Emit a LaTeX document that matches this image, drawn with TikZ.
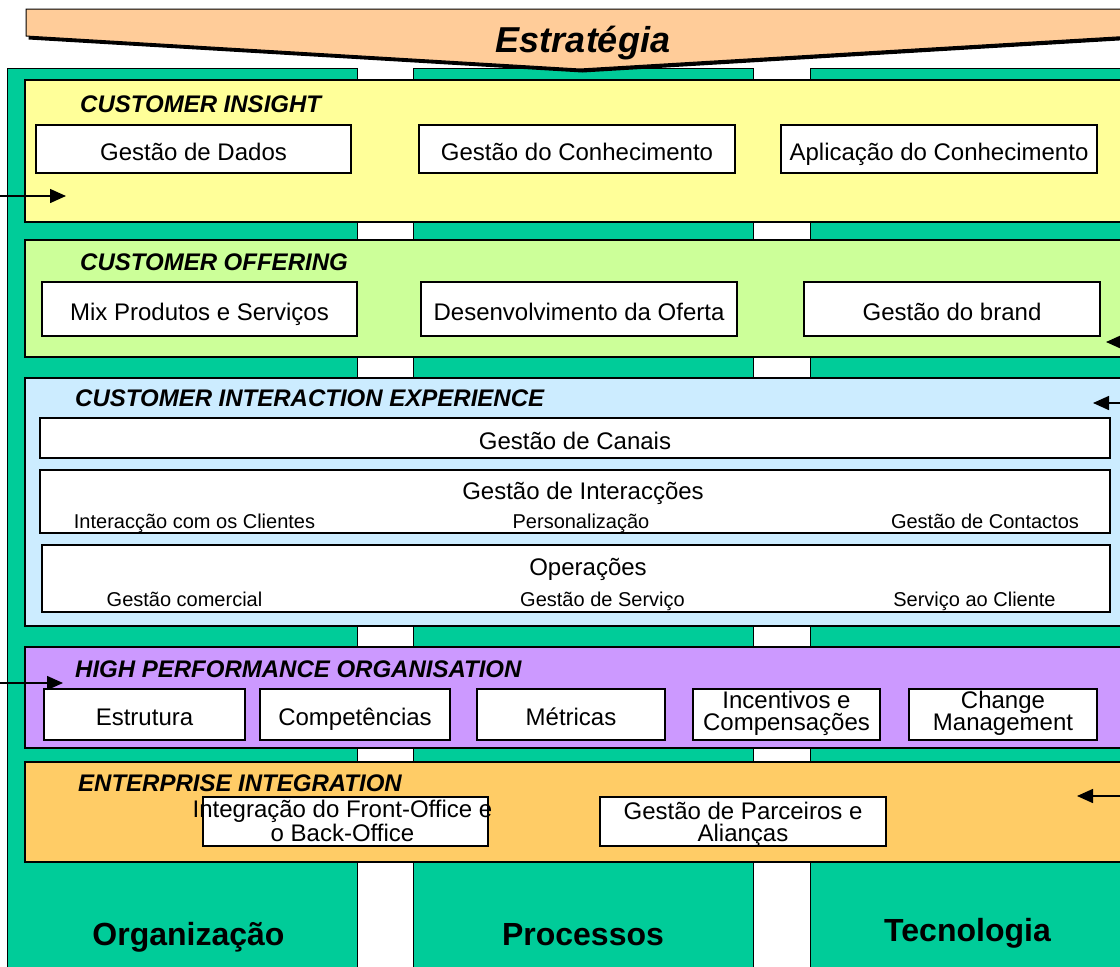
\documentclass[tikz,border=0pt]{standalone}
\usepackage{fontspec}
\setmainfont{Liberation Sans}
\usetikzlibrary{arrows.meta}
\usepackage{xcolor}
\definecolor{colgreen}{HTML}{00CC99}
\definecolor{bannerc}{HTML}{FFCC99}
\definecolor{insightc}{HTML}{FFFF99}
\definecolor{offerc}{HTML}{CCFF99}
\definecolor{interc}{HTML}{CCECFF}
\definecolor{hpoc}{HTML}{CC99FF}
\definecolor{entc}{HTML}{FFCC66}

\begin{document}
\begin{tikzpicture}[x=1pt,y=-1pt,
  band/.style={draw=black,line width=1.8pt},
  cbox/.style={draw,fill=white,line width=1.3pt,inner sep=0pt,text height=27pt,text depth=5pt,font=\fontsize{24}{24}\selectfont},
  twol/.style={anchor=base,inner sep=0pt,align=center,font=\fontsize{24}{21.5}\selectfont},
  ttl/.style={anchor=base west,inner sep=0pt,font=\fontsize{24}{24}\selectfont\bfseries\itshape},
  sub/.style={anchor=base,inner sep=0pt,font=\fontsize{20}{20}\selectfont},
  big/.style={anchor=base,inner sep=0pt,font=\fontsize{32}{32}\selectfont\bfseries},
  arr/.style={-{Triangle[length=16pt,width=14pt]},line width=1.5pt}]

  \clip (0,0) rectangle (1120,967);

  % columns
  \draw[fill=colgreen,line width=1pt] (7,68) rectangle (357,980);
  \draw[fill=colgreen,line width=1pt] (413,68) rectangle (753,980);
  \draw[fill=colgreen,line width=1pt] (810,68) rectangle (1140,980);

  % strategy banner
  \fill[black,shift={(2.5,3.5)}] (26,9) -- (1133,9) -- (1133,36) -- (580,69) -- (26,36) -- cycle;
  \draw[fill=bannerc,line width=1pt] (26,9) -- (1133,9) -- (1133,36) -- (580,69) -- (26,36) -- cycle;
  \node[anchor=base,inner sep=0pt,font=\fontsize{36}{36}\selectfont\bfseries\itshape] (Es) at (583,52) {Estratégia};

  % %customer insight
  \draw[band,fill=insightc] (25,80) rectangle (1140,222);
  \node[ttl] (CuIn) at (80,112) {CUSTOMER INSIGHT};
  \node[cbox,minimum width=315pt,minimum height=48pt] (GeDa) at (193.5,149) {Gestão de Dados};
  \node[cbox,minimum width=316pt,minimum height=48pt] (GeCo) at (577,149) {Gestão do Conhecimento};
  \node[cbox,minimum width=316pt,minimum height=48pt] (ApCo) at (939,149) {Aplicação do Conhecimento};

  % %customer offering
  \draw[band,fill=offerc] (25,240) rectangle (1140,357);
  \node[ttl] (CuOf) at (80,270) {CUSTOMER OFFERING};
  \node[cbox,minimum width=315pt,minimum height=54pt] (MiPS) at (199.5,309) {Mix Produtos e Serviços};
  \node[cbox,minimum width=316pt,minimum height=54pt] (DeOf) at (579,309) {Desenvolvimento da Oferta};
  \node[cbox,minimum width=296pt,minimum height=54pt] (GeBr) at (952,309) {Gestão do brand};

  % %interaction experience
  \draw[band,fill=interc] (25,378) rectangle (1140,626);
  \node[ttl] (CuIE) at (75,406) {CUSTOMER INTERACTION EXPERIENCE};
  \node[cbox,minimum width=1070pt,minimum height=40pt] (GeCa) at (575,438) {Gestão de Canais};
  \node[cbox,minimum width=1070pt,minimum height=63pt] (GeIn) at (575,501.5) {};
  \node[anchor=base,inner sep=0pt,font=\fontsize{24}{24}\selectfont] (GeInT) at (583,499) {Gestão de Interacções};
  \node[sub] (InCl) at (194.5,528) {Interacção com os Clientes};
  \node[sub] (Pe) at (581,528) {Personalização};
  \node[sub] (GeCt) at (985,528) {Gestão de Contactos};
  \node[cbox,minimum width=1068pt,minimum height=67pt] (Op) at (576,578.5) {};
  \node[anchor=base,inner sep=0pt,font=\fontsize{24}{24}\selectfont] (OpT) at (588,575) {Operações};
  \node[sub] (GeCm) at (184.5,606) {Gestão comercial};
  \node[sub] (GeSe) at (602.5,606) {Gestão de Serviço};
  \node[sub] (SeCl) at (974.5,606) {Serviço ao Cliente};

  % %high performance organisation
  \draw[band,fill=hpoc] (25,647) rectangle (1140,748);
  \node[ttl] (HPO) at (75,677) {HIGH PERFORMANCE ORGANISATION};
  \node[cbox,minimum width=201pt,minimum height=51pt] (Et) at (144.5,714.5) {Estrutura};
  \node[cbox,minimum width=190pt,minimum height=51pt] (Cp) at (355,714.5) {Competências};
  \node[cbox,minimum width=188pt,minimum height=51pt] (Me) at (571,714.5) {Métricas};
  \node[cbox,minimum width=187pt,minimum height=51pt] (InCo) at (786.5,714.5) {};
  \node[twol] (InCoT) at (786.5,730) {Incentivos e\\Compensações};
  \node[cbox,minimum width=188pt,minimum height=51pt] (ChMa) at (1003,714.5) {};
  \node[twol] (ChMaT) at (1003,730) {Change\\Management};

  % %enterprise integration
  \draw[band,fill=entc] (25,762) rectangle (1140,862);
  \node[ttl] (EnIn) at (78,791) {ENTERPRISE INTEGRATION};
  \node[cbox,minimum width=285pt,minimum height=49pt] (FrBa) at (345.5,821.5) {};
  \node[twol] (FrBaT) at (342.5,841) {Integração do Front-Office e\\o Back-Office};
  \node[cbox,minimum width=286pt,minimum height=49pt] (GePA) at (743,821.5) {};
  \node[twol] (GePAT) at (743,841) {Gestão de Parceiros e\\Alianças};

  % %outside arrows
  \coordinate (L1) at (-5,196);
  \coordinate (L1e) at (66,196);
  \coordinate (L2) at (-5,683);
  \coordinate (L2e) at (63,683);
  \coordinate (R1) at (1125,342);
  \coordinate (R1e) at (1106,342);
  \coordinate (R2) at (1125,403);
  \coordinate (R2e) at (1093,403);
  \coordinate (R3) at (1125,796);
  \coordinate (R3e) at (1077,796);
  \draw[arr] (L1) -- (L1e);
  \draw[arr] (L2) -- (L2e);
  \draw[arr] (R1) -- (R1e);
  \draw[arr] (R2) -- (R2e);
  \draw[arr] (R3) -- (R3e);

  % %pillars
  \node[big] (Or) at (188.5,945) {Organização};
  \node[big] (Pr) at (583,945) {Processos};
  \node[big] (Te) at (967.5,941) {Tecnologia};

\end{tikzpicture}
\end{document}
